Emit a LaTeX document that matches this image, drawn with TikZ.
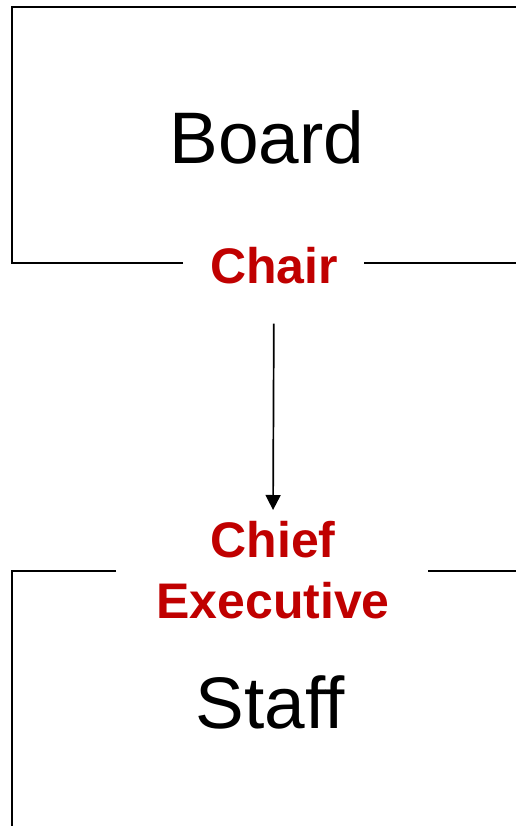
\documentclass[tikz,border=0pt]{standalone}
\usepackage{fontspec}
\setmainfont{Liberation Sans}
\usetikzlibrary{arrows.meta}
\definecolor{rolered}{RGB}{192,0,0}
\begin{document}
\begin{tikzpicture}[x=1pt,y=-1pt,
  frame/.style={draw=black, line width=1.6pt},
  title/.style={font=\fontsize{73}{80}\selectfont, inner sep=0pt},
  role/.style={font=\fontsize{50}{61}\selectfont\bfseries, text=rolered, inner sep=0pt, align=center},
  link/.style={-{Triangle[length=15pt,width=15pt]}, line width=1.7pt}]
\useasboundingbox (0,0) rectangle (516,826);
% frames
\draw[frame] (183,263) -- (12,263) -- (12,7) -- (516,7);
\draw[frame] (364,263) -- (516,263);
\draw[frame] (116,571) -- (12,571) -- (12,826);
\draw[frame] (428,571) -- (516,571);
% texts
\node[title, anchor=base] (board) at (267,164) {Board};
\node[title, anchor=base] (staff) at (270,728) {Staff};
\node[role, anchor=base] (chair) at (274,283) {Chair};
\node[role, anchor=north] (chief) at (273,521) {Chief\\Executive};
% connector
\draw[link, shorten <=40pt, shorten >=11pt] (chair.south) -- (chief.north);
\end{tikzpicture}
\end{document}
